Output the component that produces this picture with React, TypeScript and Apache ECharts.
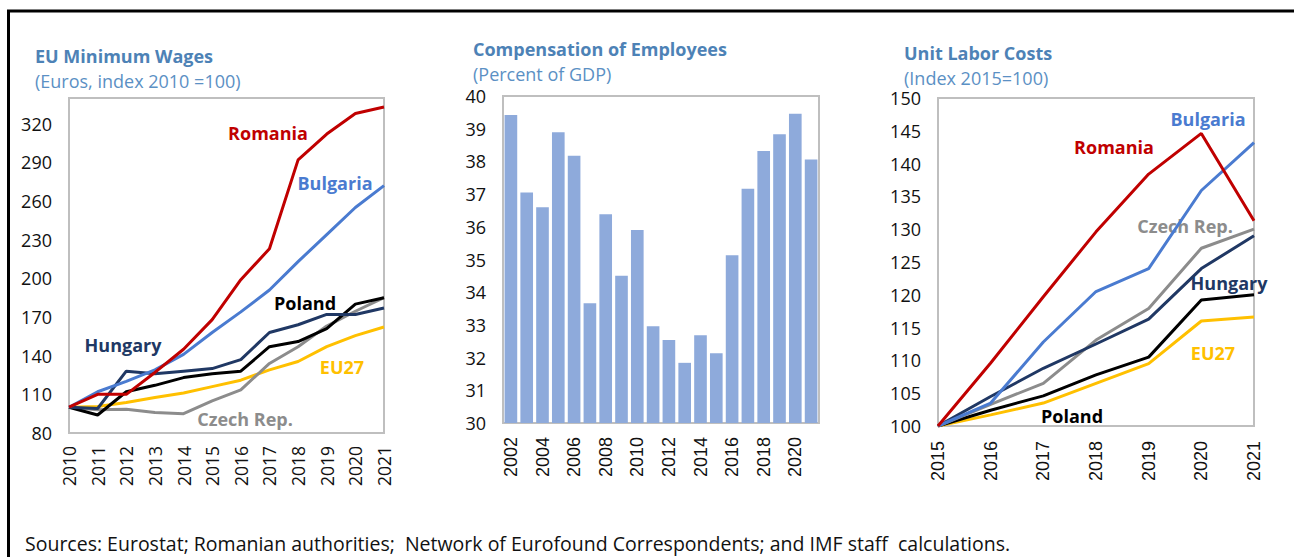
import React, { useEffect, useRef } from "react";
import * as echarts from "echarts";

// ---------- Left: EU minimum wages (Euros, index 2010 = 100)
const wageYears = ["2010", "2011", "2012", "2013", "2014", "2015", "2016", "2017", "2018", "2019", "2020", "2021"];
const wageRomania = [100, 110, 110, 127, 145, 168, 199, 223, 292, 312, 328, 333];
const wageBulgaria = [100, 112, 120, 129, 141, 158, 174, 191, 213, 234, 255, 272];
const wageHungary = [100, 99, 128, 126, 128, 130, 137, 158, 164, 172, 172, 177];
const wagePoland = [100, 94, 112, 117, 123, 126, 128, 147, 151, 161, 180, 185];
const wageCzech = [100, 98, 98.5, 96, 95, 105, 113.5, 134, 147, 163, 174.5, 185];
const wageEU27 = [100, 100.5, 103.6, 107.5, 111, 116, 121, 129, 135.5, 147, 155.6, 162.3];

// ---------- Middle: Compensation of employees (percent of GDP)
const compYears = ["2002", "2003", "2004", "2005", "2006", "2007", "2008", "2009", "2010", "2011",
  "2012", "2013", "2014", "2015", "2016", "2017", "2018", "2019", "2020", "2021"];
const compValues = [39.42, 37.05, 36.6, 38.89, 38.17, 33.66, 36.38, 34.5, 35.9, 32.96,
  32.54, 31.84, 32.68, 32.13, 35.13, 37.16, 38.32, 38.83, 39.46, 38.06];

// ---------- Right: Unit labor costs (index 2015 = 100)
const ulcYears = ["2015", "2016", "2017", "2018", "2019", "2020", "2021"];
const ulcRomania = [100, 109.6, 119.7, 129.6, 138.4, 144.6, 131.3];
const ulcBulgaria = [100, 103.5, 112.8, 120.5, 124.0, 135.9, 143.2];
const ulcHungary = [100, 104.5, 108.8, 112.5, 116.3, 124.0, 129.0];
const ulcCzech = [100, 103.3, 106.5, 113.1, 117.9, 127.1, 130.0];
const ulcPoland = [100, 102.4, 104.6, 107.8, 110.5, 119.2, 120.0];
const ulcEU27 = [100, 101.7, 103.5, 106.5, 109.5, 116.0, 116.6];

const C_RO = "#c00000";
const C_BG = "#4a7bd0";
const C_HU = "#203864";
const C_PL = "#000000";
const C_CZ = "#8c8c8c";
const C_EU = "#ffc000";
const C_TITLE = "#4d82b6";
const C_SUB = "#5b90c4";
const C_BAR = "#8eaadb";

const SANS = '"Open Sans", "Noto Sans", sans-serif';
const ARIAL = '"Liberation Sans", Arial, sans-serif';

function txt(text: string, x: number, y: number, color: string, font: string, align = "left") {
  return {
    type: "text",
    x,
    y,
    silent: true,
    style: {
      text,
      fill: color,
      font,
      textAlign: align,
      textVerticalAlign: "middle",
      align,
      verticalAlign: "middle",
    },
  };
}

function lineSeries(name: string, data: number[], color: string, idx: number, z = 2) {
  return {
    type: "line",
    name,
    data,
    xAxisIndex: idx,
    yAxisIndex: idx,
    symbol: "none",
    z,
    lineStyle: { color, width: 3 },
    itemStyle: { color },
  };
}

export default function App() {
  const ref = useRef<HTMLDivElement>(null);
  useEffect(() => {
    if (!ref.current) return;
    const chart = echarts.init(ref.current, undefined, { renderer: "svg" });
    const gridCommon = { show: true, borderColor: "#bfbfbf", borderWidth: 2, backgroundColor: "transparent" };
    const yLabel = { color: "#111", fontSize: 18, fontFamily: SANS, margin: 17 };
    const ANN = `bold 18px ${SANS}`;
    const TIT = `bold 18px ${SANS}`;
    const SUB = `18px ${SANS}`;
    const option: any = {
      animation: false,
      grid: [
        { ...gridCommon, left: 69, right: 910, top: 98, bottom: 124 },
        { ...gridCommon, left: 503, right: 475, top: 96, bottom: 134 },
        { ...gridCommon, left: 938, right: 40, top: 98, bottom: 131 },
      ],
      xAxis: [
        {
          type: "category", gridIndex: 0, data: wageYears, boundaryGap: false,
          axisLine: { show: false }, axisTick: { show: false },
          axisLabel: { rotate: 90, interval: 0, fontSize: 17.5, color: "#111", fontFamily: SANS, margin: 13 },
        },
        {
          type: "category", gridIndex: 1, data: compYears, boundaryGap: true,
          axisLine: { show: false }, axisTick: { show: false },
          axisLabel: { rotate: 90, interval: 1, fontSize: 18, color: "#111", fontFamily: ARIAL, margin: 14 },
        },
        {
          type: "category", gridIndex: 2, data: ulcYears, boundaryGap: false,
          axisLine: { show: false }, axisTick: { show: false },
          axisLabel: { rotate: 90, interval: 0, fontSize: 18, color: "#111", fontFamily: ARIAL, margin: 15 },
        },
      ],
      yAxis: [
        {
          type: "value", gridIndex: 0, min: 80, max: 340, interval: 30,
          splitLine: { show: false }, axisLine: { show: false }, axisTick: { show: false },
          axisLabel: { ...yLabel, showMaxLabel: false },
        },
        {
          type: "value", gridIndex: 1, min: 30, max: 40, interval: 1,
          splitLine: { show: false }, axisLine: { show: false }, axisTick: { show: false },
          axisLabel: { ...yLabel },
        },
        {
          type: "value", gridIndex: 2, min: 100, max: 150, interval: 5,
          splitLine: { show: false }, axisLine: { show: false }, axisTick: { show: false },
          axisLabel: { ...yLabel },
        },
      ],
      series: [
        lineSeries("EU27", wageEU27, C_EU, 0),
        lineSeries("Czech Rep.", wageCzech, C_CZ, 0),
        lineSeries("Poland", wagePoland, C_PL, 0),
        lineSeries("Hungary", wageHungary, C_HU, 0),
        lineSeries("Bulgaria", wageBulgaria, C_BG, 0),
        lineSeries("Romania", wageRomania, C_RO, 0),
        {
          type: "bar", name: "Compensation", data: compValues, xAxisIndex: 1, yAxisIndex: 1,
          barCategoryGap: "20%", itemStyle: { color: C_BAR },
        },
        lineSeries("EU27", ulcEU27, C_EU, 2),
        lineSeries("Poland", ulcPoland, C_PL, 2),
        lineSeries("Czech Rep.", ulcCzech, C_CZ, 2),
        lineSeries("Hungary", ulcHungary, C_HU, 2),
        lineSeries("Bulgaria", ulcBulgaria, C_BG, 2),
        lineSeries("Romania", ulcRomania, C_RO, 2),
      ],
      graphic: [
        {
          type: "rect", silent: true, z: 100,
          shape: { x: 8.5, y: 11, width: 1300, height: 600 },
          style: { fill: "none", stroke: "#000", lineWidth: 3 },
        },
        // titles
        txt("EU Minimum Wages", 35, 56, C_TITLE, TIT),
        txt("(Euros, index 2010 =100)", 35, 81, C_SUB, SUB),
        txt("Compensation of Employees", 473, 49, C_TITLE, TIT),
        txt("(Percent of GDP)", 473, 74, C_SUB, SUB),
        txt("Unit Labor Costs", 904, 53, C_TITLE, TIT),
        txt("(Index 2015=100)", 904, 78, C_SUB, SUB),
        // left annotations
        txt("Romania", 268, 133, C_RO, ANN, "center"),
        txt("Bulgaria", 335, 183, C_BG, ANN, "center"),
        txt("Poland", 305, 303, C_PL, ANN, "center"),
        txt("Hungary", 123, 345, C_HU, ANN, "center"),
        txt("EU27", 342, 367, C_EU, ANN, "center"),
        txt("Czech Rep.", 245, 419, C_CZ, ANN, "center"),
        // right annotations
        txt("Bulgaria", 1208, 119, C_BG, ANN, "center"),
        txt("Romania", 1114, 147, C_RO, ANN, "center"),
        txt("Czech Rep.", 1185, 226, C_CZ, ANN, "center"),
        txt("Hungary", 1229, 283, C_HU, ANN, "center"),
        txt("EU27", 1213, 353, C_EU, ANN, "center"),
        txt("Poland", 1072, 416, C_PL, ANN, "center"),
        // sources
        txt("Sources: Eurostat; Romanian authorities;  Network of Eurofound Correspondents; and IMF staff  calculations.",
          25, 543, "#111", `19.5px ${SANS}`),
      ],
    };
    chart.setOption(option);
    return () => chart.dispose();
  }, []);
  return (
    <div
      ref={ref}
      style={{ position: "fixed", left: 0, top: 0, width: 1294, height: 557, background: "#fff" }}
    />
  );
}
